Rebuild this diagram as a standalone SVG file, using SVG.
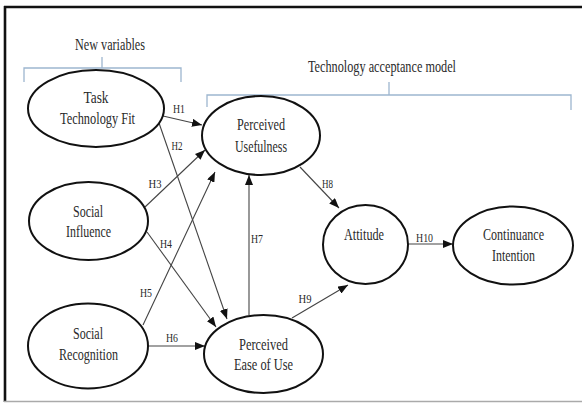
<svg xmlns="http://www.w3.org/2000/svg" width="582" height="404" viewBox="0 0 582 404">
<style>
.node ellipse{fill:#fff;stroke:#111;stroke-width:2}
.t{font-family:"Liberation Serif","Times New Roman",serif;font-size:17px;fill:#2a2a2a;text-anchor:middle}
.lb{font-family:"Liberation Serif","Times New Roman",serif;font-size:13px;fill:#2a2a2a;text-anchor:middle}
.c line{stroke:#444;stroke-width:1.1;marker-end:url(#ah)}
.br{fill:none;stroke:#9db6cf;stroke-width:1.3}
</style>
<defs>
<marker id="ah" markerUnits="userSpaceOnUse" markerWidth="10" markerHeight="8" refX="10" refY="4" orient="auto">
<path d="M0,0 L10,4 L0,8 z" fill="#111"/>
</marker>
</defs>
<rect width="582" height="404" fill="#fff"/>
<!-- frame -->
<line x1="4" y1="7" x2="582" y2="7" stroke="#111" stroke-width="2.4"/>
<line x1="5" y1="6" x2="5" y2="402" stroke="#111" stroke-width="2.6"/>
<line x1="4" y1="401.5" x2="582" y2="401.5" stroke="#aaa" stroke-width="1.6"/>
<!-- brackets -->
<g id="new-variables">
<path class="br" d="M24,82 L24,68 L181,68 L181,82 M102,68 L102,57"/>
<text class="t" x="110" y="50" textLength="70" lengthAdjust="spacingAndGlyphs">New variables</text>
</g>
<g id="tam">
<path class="br" d="M207,107 L207,95 L571,95 L571,110 M389,95 L389,82"/>
<text class="t" x="382" y="72" textLength="148" lengthAdjust="spacingAndGlyphs">Technology acceptance model</text>
</g>
<!-- connectors -->
<g id="connectors" class="c">
<line x1="163" y1="116" x2="202" y2="125"/>
<line x1="159" y1="123" x2="227" y2="319"/>
<line x1="145" y1="207" x2="205" y2="150"/>
<line x1="147" y1="232" x2="216" y2="327"/>
<line x1="143" y1="325" x2="215" y2="172"/>
<line x1="148" y1="346" x2="205" y2="346"/>
<line x1="249" y1="315" x2="249" y2="175"/>
<line x1="300" y1="167" x2="339" y2="208"/>
<line x1="292" y1="318" x2="348" y2="285"/>
<line x1="408" y1="244" x2="453" y2="244"/>
<g id="labels">
<text class="lb" x="179" y="113" textLength="12" lengthAdjust="spacingAndGlyphs">H1</text>
<text class="lb" x="177" y="150" textLength="11" lengthAdjust="spacingAndGlyphs">H2</text>
<text class="lb" x="155" y="188" textLength="13" lengthAdjust="spacingAndGlyphs">H3</text>
<text class="lb" x="166" y="248" textLength="12" lengthAdjust="spacingAndGlyphs">H4</text>
<text class="lb" x="146" y="297" textLength="12" lengthAdjust="spacingAndGlyphs">H5</text>
<text class="lb" x="172" y="342" textLength="12" lengthAdjust="spacingAndGlyphs">H6</text>
<text class="lb" x="257" y="243" textLength="12" lengthAdjust="spacingAndGlyphs">H7</text>
<text class="lb" x="327.5" y="188" textLength="11" lengthAdjust="spacingAndGlyphs">H8</text>
<text class="lb" x="305" y="303" textLength="13" lengthAdjust="spacingAndGlyphs">H9</text>
<text class="lb" x="424.5" y="242" textLength="17" lengthAdjust="spacingAndGlyphs">H10</text>
</g>
</g>
<!-- nodes -->
<g id="ttf" class="node">
<ellipse cx="96" cy="108.5" rx="68" ry="38.5"/>
<text class="t" x="96" y="103" textLength="25" lengthAdjust="spacingAndGlyphs">Task</text>
<text class="t" x="97.5" y="124" textLength="75" lengthAdjust="spacingAndGlyphs">Technology Fit</text>
</g>
<g id="pu" class="node">
<ellipse cx="261" cy="135.5" rx="59" ry="39.5"/>
<text class="t" x="261" y="130" textLength="48" lengthAdjust="spacingAndGlyphs">Perceived</text>
<text class="t" x="261" y="152" textLength="52" lengthAdjust="spacingAndGlyphs">Usefulness</text>
</g>
<g id="si" class="node">
<ellipse cx="88.5" cy="221" rx="59.5" ry="39"/>
<text class="t" x="88" y="217" textLength="30" lengthAdjust="spacingAndGlyphs">Social</text>
<text class="t" x="88.5" y="237" textLength="45" lengthAdjust="spacingAndGlyphs">Influence</text>
</g>
<g id="sr" class="node">
<ellipse cx="88" cy="346" rx="60" ry="42.5"/>
<text class="t" x="88" y="339" textLength="30" lengthAdjust="spacingAndGlyphs">Social</text>
<text class="t" x="88.5" y="360" textLength="59" lengthAdjust="spacingAndGlyphs">Recognition</text>
</g>
<g id="peu" class="node">
<ellipse cx="263.5" cy="354" rx="59.5" ry="39"/>
<text class="t" x="263.5" y="350" textLength="49" lengthAdjust="spacingAndGlyphs">Perceived</text>
<text class="t" x="263.5" y="370" textLength="59" lengthAdjust="spacingAndGlyphs">Ease of Use</text>
</g>
<g id="att" class="node">
<ellipse cx="365.5" cy="244.5" rx="42.5" ry="39.5"/>
<text class="t" x="364" y="240" textLength="40" lengthAdjust="spacingAndGlyphs">Attitude</text>
</g>
<g id="ci" class="node">
<ellipse cx="513" cy="245.5" rx="60" ry="39"/>
<text class="t" x="513.5" y="240" textLength="61" lengthAdjust="spacingAndGlyphs">Continuance</text>
<text class="t" x="513.5" y="261" textLength="43" lengthAdjust="spacingAndGlyphs">Intention</text>
</g>
</svg>
